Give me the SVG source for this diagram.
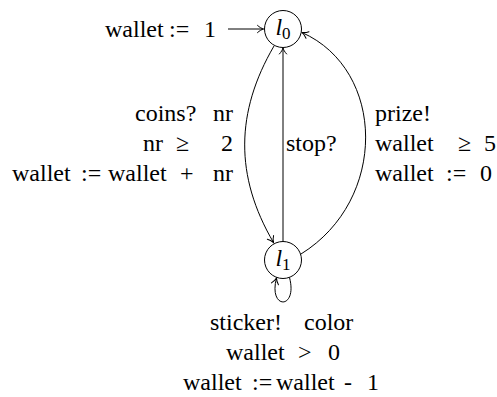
<svg xmlns="http://www.w3.org/2000/svg" width="497" height="397" viewBox="0 0 497 397">
<style>
.node circle{fill:#fff;stroke:#000;stroke-width:1}
.edge{fill:none;stroke:#000;stroke-width:1}
.it{font-style:italic}
.sub{font-size:17px}
</style>
<defs>
<marker id="arr" markerUnits="userSpaceOnUse" orient="auto" markerWidth="12" markerHeight="12" viewBox="-8 -6 10 12" refX="0" refY="0" overflow="visible">
<path d="M -6 -3.6 C -4 -1.6 -1.5 -0.5 0 0 C -1.5 0.5 -4 1.6 -6 3.6" fill="none" stroke="#000" stroke-width="1" stroke-linecap="round"/>
</marker>
</defs>
<g id="connectors">
<path class="edge" d="M 228 29 L 263.5 29" marker-end="url(#arr)"/>
<path class="edge" d="M 283 241.5 L 283 48" marker-end="url(#arr)"/>
<path class="edge" d="M 274 46 C 235.5 112 234.5 176 273.5 242.5" marker-end="url(#arr)"/>
<path class="edge" d="M 301 254 C 388 200 386 70 302 32.5" marker-end="url(#arr)"/>
<path class="edge" d="M 289.5 277.5 C 298 310 268 310 276.5 278" marker-end="url(#arr)"/>
</g>
<g font-family="'Liberation Serif', 'Times New Roman', Times, serif" font-size="24" fill="#000">
<g id="l0" class="node">
<circle cx="283" cy="29" r="18.5"/>
<text x="283" y="35" text-anchor="middle"><tspan class="it">l</tspan><tspan class="sub" dy="4">0</tspan></text>
</g>
<g id="l1" class="node">
<circle cx="283" cy="260" r="18.5"/>
<text x="283" y="266" text-anchor="middle"><tspan class="it">l</tspan><tspan class="sub" dy="4">1</tspan></text>
</g>
<g id="labels">
<text y="37"><tspan x="105">wallet</tspan><tspan x="169">:=</tspan><tspan x="204">1</tspan></text>
<text y="121"><tspan x="135">coins?</tspan><tspan x="213">nr</tspan></text>
<text y="151"><tspan x="143">nr</tspan><tspan x="176">≥</tspan><tspan x="221">2</tspan></text>
<text y="181"><tspan x="12">wallet</tspan><tspan x="81">:=</tspan><tspan x="108">wallet</tspan><tspan x="180">+</tspan><tspan x="213">nr</tspan></text>
<text x="286" y="151">stop?</text>
<text y="121"><tspan x="375">prize!</tspan></text>
<text y="151"><tspan x="375">wallet</tspan><tspan x="458">≥</tspan><tspan x="484">5</tspan></text>
<text y="181"><tspan x="375">wallet</tspan><tspan x="446">:=</tspan><tspan x="480">0</tspan></text>
<text y="330"><tspan x="210">sticker!</tspan><tspan x="304">color</tspan></text>
<text y="360"><tspan x="226">wallet</tspan><tspan x="298">&gt;</tspan><tspan x="328">0</tspan></text>
<text y="390"><tspan x="183">wallet</tspan><tspan x="252">:=</tspan><tspan x="276">wallet</tspan><tspan x="344">-</tspan><tspan x="367">1</tspan></text>
</g>
</g>
</svg>
